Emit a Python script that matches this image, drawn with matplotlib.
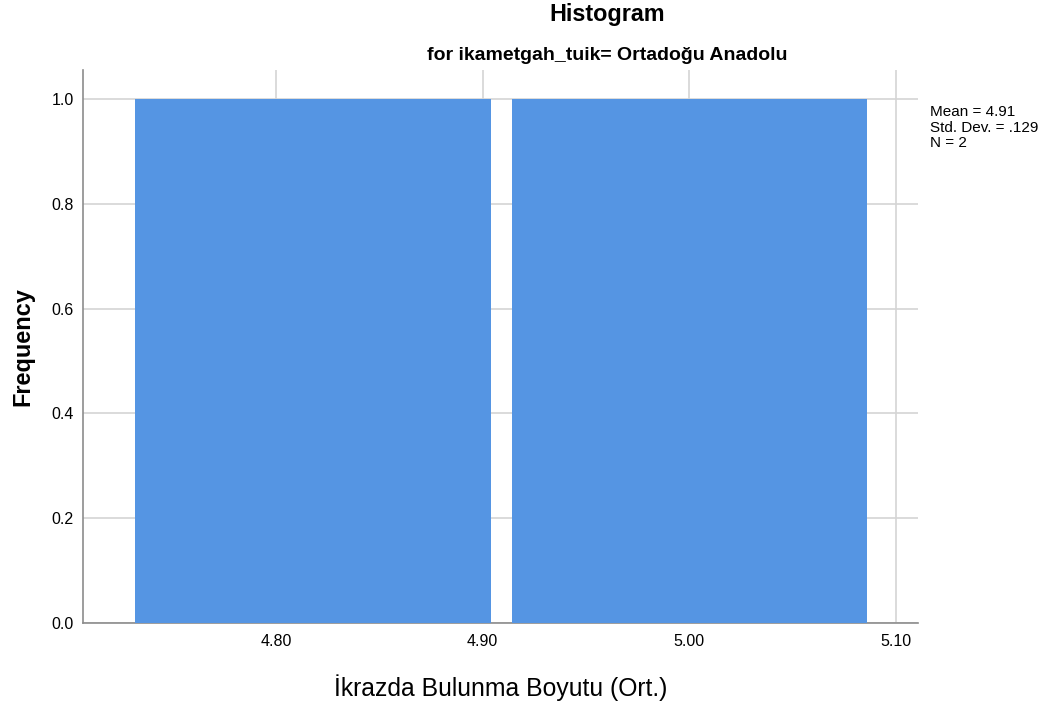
import matplotlib
matplotlib.use("Agg")
from matplotlib import pyplot as plt
import numpy as np

plt.rcParams['font.family'] = ['Liberation Sans', 'DejaVu Sans']

# bar centres (values of the two cases) and their frequencies
bin_centers = [4.818, 5.000]
frequency = [1, 1]
bar_width = 0.172
x_ticks = [4.80, 4.90, 5.00, 5.10]
x_ticklabels = ["4.80", "4.90", "5.00", "5.10"]
y_ticks = [0.0, 0.2, 0.4, 0.6, 0.8, 1.0]
stats_lines = ["Mean = 4.91", "Std. Dev. = .129", "N = 2"]

fig = plt.figure(figsize=(10.54, 7.06), dpi=100)
ax = fig.add_axes([0.0787, 0.1176, 0.7922, 0.7832])

ax.bar(bin_centers, frequency, width=bar_width, color='#5595e3', zorder=3)

ax.set_xlim(4.7066, 5.1106)
ax.set_ylim(0, 1.055)
ax.set_xticks(x_ticks)
ax.set_xticklabels(x_ticklabels, fontsize=11.5)
ax.set_yticks(y_ticks)
ax.set_yticklabels(["%.1f" % v for v in y_ticks], fontsize=11.5)
ax.tick_params(axis='x', length=0, pad=8)
ax.tick_params(axis='y', length=0, pad=6.5)
ax.grid(True, color='#d4d4d4', linewidth=1.2, zorder=0)

for s in ['top', 'right']:
    ax.spines[s].set_visible(False)
for s in ['left', 'bottom']:
    ax.spines[s].set_color('#8c8c8c')
    ax.spines[s].set_linewidth(1.2)

ax.set_xlabel("İkrazda Bulunma Boyutu (Ort.)", fontsize=17.8, labelpad=18)
ax.set_ylabel("Frequency", fontsize=16.9, fontweight='bold', labelpad=12.5)

fig.text(0.576, 0.979, "Histogram", ha='center', va='center', fontsize=16.8, fontweight='bold')
fig.text(0.576, 0.921, "for ikametgah_tuik= Ortadoğu Anadolu", ha='center', va='center',
         fontsize=14, fontweight='bold')
fig.text(0.882, 0.851, "\n".join(stats_lines), ha='left', va='top', fontsize=11, linespacing=1.15)

fig.savefig("out.png", dpi=100)
